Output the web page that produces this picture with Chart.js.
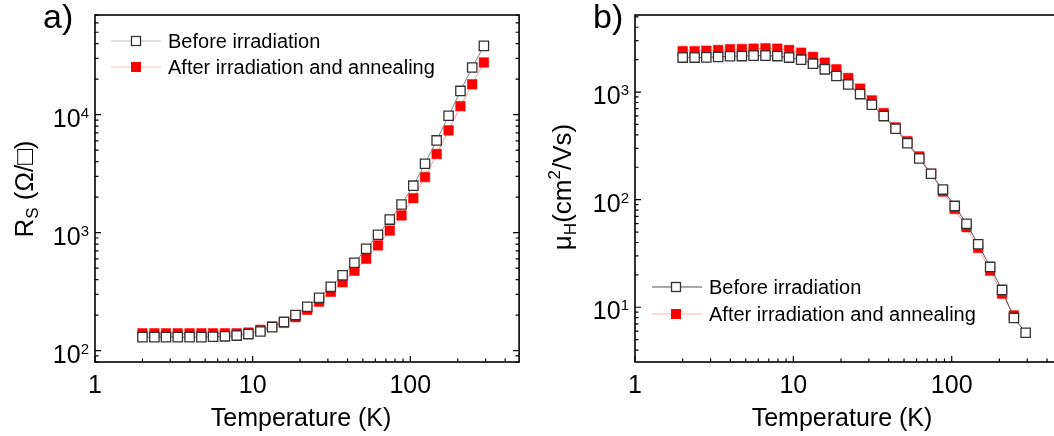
<!DOCTYPE html>
<html>
<head>
<meta charset="utf-8">
<script src="https://cdn.jsdelivr.net/npm/chart.js@4.4.1/dist/chart.umd.min.js"></script>
<style>
  html, body { margin: 0; padding: 0; background: #fff; overflow: hidden; width: 1054px; height: 436px; }
  #panelA { position: absolute; left: 0; top: 0; }
  #panelB { position: absolute; left: 527px; top: 0; }
</style>
</head>
<body>
<canvas id="panelA" width="527" height="436"></canvas>
<canvas id="panelB" width="545" height="436"></canvas>
<script>
// measurement temperatures (K), shared by both panels
const temperature = [2, 2.38, 2.82, 3.35, 3.98, 4.73, 5.61, 6.67, 7.92, 9.4,
  11.2, 13.3, 15.8, 18.7, 22.2, 26.4, 31.3, 37.2, 44.2, 52.5,
  62.4, 74.1, 88, 104.5, 124, 147, 175, 208, 247, 293];

// a) sheet resistance (Ohm/sq)
const rsBefore = [130, 130, 130, 130, 130, 130, 131, 132, 134, 138,
  145, 158, 175, 200, 235, 280, 347, 435, 555, 729,
  959, 1290, 1730, 2500, 3840, 6050, 9800, 15900, 25100, 38300];
const rsAfter = [140, 140, 140, 140, 140, 140, 140, 140, 140, 142,
  150, 160, 172, 192, 222, 260, 315, 380, 475, 600,
  780, 1040, 1400, 1960, 2960, 4640, 7360, 11800, 18100, 27700];

// b) Hall mobility (cm2/Vs)
const muBefore = [2090, 2090, 2100, 2120, 2150, 2160, 2180, 2180, 2160, 2090,
  2000, 1835, 1626, 1409, 1178, 957, 762, 598, 456, 334,
  241, 174, 124, 87.5, 59.6, 38.5, 23.7, 14.5, 7.96, 5.8];
const muAfter = [2400, 2400, 2420, 2460, 2500, 2510, 2530, 2550, 2530, 2460,
  2320, 2120, 1875, 1626, 1350, 1075, 836, 637, 469, 350,
  252, 174, 119, 82, 55.5, 35.6, 21.9, 13.4, 8.4];

const seriesNames = ["Before irradiation", "After irradiation and annealing"];
const xTickLabels = [1, 10, 100];
const rsTickLabels = [100, 1000, 10000];
const muTickLabels = [10, 100, 1000];

const FONT = '"Liberation Sans", Arial, sans-serif';

// all decade + minor positions between min and max
function logTicks(min, max) {
    const out = [];
    for (let e = Math.floor(Math.log10(min)); e <= Math.ceil(Math.log10(max)); e++) {
        for (let m = 1; m <= 9; m++) {
            const v = m * Math.pow(10, e);
            if (v >= min * 0.999 && v <= max * 1.001) out.push({ v: v, major: m === 1 });
        }
    }
    return out;
}

// text made of pieces with their own size / baseline shift
function richWidth(ctx, parts) {
    let w = 0;
    parts.forEach(p => { ctx.font = p.size + "px " + FONT; w += ctx.measureText(p.t).width; });
    return w;
}
function drawRich(ctx, parts, x, y) {
    parts.forEach(p => {
        ctx.font = p.size + "px " + FONT;
        ctx.fillText(p.t, x, y + (p.dy || 0));
        x += ctx.measureText(p.t).width;
    });
}

const panelDecor = {
    id: "panelDecor",
    afterDraw(chart, args, opts) {
        const ctx = chart.ctx;
        const area = chart.chartArea;
        const xs = chart.scales.x, ys = chart.scales.y;
        ctx.save();
        ctx.fillStyle = "#000";
        ctx.strokeStyle = "#000";

        // frame
        ctx.lineWidth = 1.6;
        ctx.strokeRect(area.left, area.top, area.right - area.left, area.bottom - area.top);

        // inward ticks: bottom, left, right
        ctx.lineWidth = 1.2;
        ctx.beginPath();
        logTicks(xs.min, xs.max).forEach(t => {
            const px = xs.getPixelForValue(t.v);
            ctx.moveTo(px, area.bottom);
            ctx.lineTo(px, area.bottom - (t.major ? 6 : 3.5));
        });
        logTicks(ys.min, ys.max).forEach(t => {
            const py = ys.getPixelForValue(t.v);
            const len = t.major ? 6 : 3.5;
            ctx.moveTo(area.left, py); ctx.lineTo(area.left + len, py);
            ctx.moveTo(area.right, py); ctx.lineTo(area.right - len, py);
        });
        ctx.stroke();

        // x tick labels
        ctx.textBaseline = "alphabetic";
        ctx.textAlign = "center";
        ctx.font = "25px " + FONT;
        xTickLabels.forEach(v => {
            ctx.fillText(String(v), xs.getPixelForValue(v), 393);
        });

        // y tick labels 10^n
        ctx.textAlign = "left";
        opts.yTicks.forEach(v => {
            const py = ys.getPixelForValue(v);
            const parts = [
                { t: "10", size: 25, dy: 12 },
                { t: String(Math.round(Math.log10(v))), size: 15, dy: 3 }
            ];
            drawRich(ctx, parts, area.left - 6 - richWidth(ctx, parts), py);
        });

        // x title
        ctx.font = "25px " + FONT;
        ctx.textAlign = "center";
        ctx.fillText("Temperature (K)", (area.left + area.right) / 2 - 6, 426);

        // y title, rotated
        ctx.textAlign = "left";
        ctx.save();
        ctx.translate(opts.yTitleX, opts.yTitleY);
        ctx.rotate(-Math.PI / 2);
        drawRich(ctx, opts.yTitle, -richWidth(ctx, opts.yTitle) / 2, 0);
        ctx.restore();

        // panel letter
        ctx.font = "34px " + FONT;
        ctx.fillText(opts.letter, opts.letterX, 28);

        // legend
        const lg = opts.legend;
        chart.data.datasets.forEach((ds, i) => {
            const ry = lg.rows[i];
            ctx.strokeStyle = lg.lineColors[i];
            ctx.lineWidth = 1.2;
            ctx.beginPath();
            ctx.moveTo(lg.x0, ry); ctx.lineTo(lg.x1, ry);
            ctx.stroke();
            if (i === 0) {
                ctx.fillStyle = "#fff";
                ctx.fillRect(lg.mx - 4.5, ry - 4.5, 9, 9);
                ctx.strokeStyle = "#333";
                ctx.lineWidth = 1.3;
                ctx.strokeRect(lg.mx - 4.5, ry - 4.5, 9, 9);
            } else {
                ctx.fillStyle = "#ff0000";
                ctx.fillRect(lg.mx - 5, ry - 5, 10, 10);
            }
            ctx.fillStyle = "#000";
            ctx.font = "20px " + FONT;
            ctx.fillText(ds.label, lg.tx, ry + 7);
        });
        ctx.restore();
    }
};

function makePanel(canvasId, before, after, yMin, yMax, padding, beforeLine, decor) {
    const ctx = document.getElementById(canvasId).getContext("2d");
    return new Chart(ctx, {
        type: "line",
        data: {
            datasets: [{
                label: seriesNames[0],
                data: before.map((v, i) => ({ x: temperature[i], y: v })),
                borderColor: beforeLine,
                borderWidth: 1,
                pointStyle: "rect",
                pointRadius: 6.6,
                pointBorderColor: "#333",
                pointBackgroundColor: "#fff",
                pointBorderWidth: 1.3
            }, {
                label: seriesNames[1],
                data: after.map((v, i) => ({ x: temperature[i], y: v })),
                borderColor: "#ff9c9c",
                borderWidth: 1,
                pointStyle: "rect",
                pointRadius: 6.8,
                pointBorderColor: "#ff0000",
                pointBackgroundColor: "#ff0000",
                pointBorderWidth: 0.5
            }]
        },
        options: {
            responsive: false,
            animation: false,
            devicePixelRatio: 1,
            layout: { padding: padding },
            scales: {
                x: { type: "logarithmic", min: 1, max: 490, display: false },
                y: { type: "logarithmic", min: yMin, max: yMax, display: false }
            },
            plugins: {
                legend: { display: false },
                tooltip: { enabled: false },
                panelDecor: decor
            }
        },
        plugins: [panelDecor]
    });
}

makePanel("panelA", rsBefore, rsAfter, 80, 70000,
    { left: 95, top: 15, right: 6, bottom: 74 }, "#808080", {
        yTicks: rsTickLabels,
        yTitle: [{ t: "R", size: 26 }, { t: "S", size: 17, dy: 5 }, { t: " (Ω/□)", size: 26 }],
        yTitleX: 33, yTitleY: 189,
        letter: "a)", letterX: 43,
        legend: { x0: 111, x1: 161, mx: 136, tx: 168, rows: [41, 67], lineColors: ["#bdbdbd", "#ffbdbd"] }
    });

makePanel("panelB", muBefore, muAfter, 3.1, 5200,
    { left: 108, top: 15, right: 11, bottom: 74 }, "#555", {
        yTicks: muTickLabels,
        yTitle: [{ t: "μ", size: 26 }, { t: "H", size: 17, dy: 5 }, { t: "(cm", size: 26 },
                 { t: "2", size: 17, dy: -11 }, { t: "/Vs)", size: 26 }],
        yTitleX: 44, yTitleY: 187,
        letter: "b)", letterX: 66,
        legend: { x0: 125, x1: 175, mx: 149, tx: 182, rows: [287, 314], lineColors: ["#555", "#ffb0b0"] }
    });
</script>
</body>
</html>
